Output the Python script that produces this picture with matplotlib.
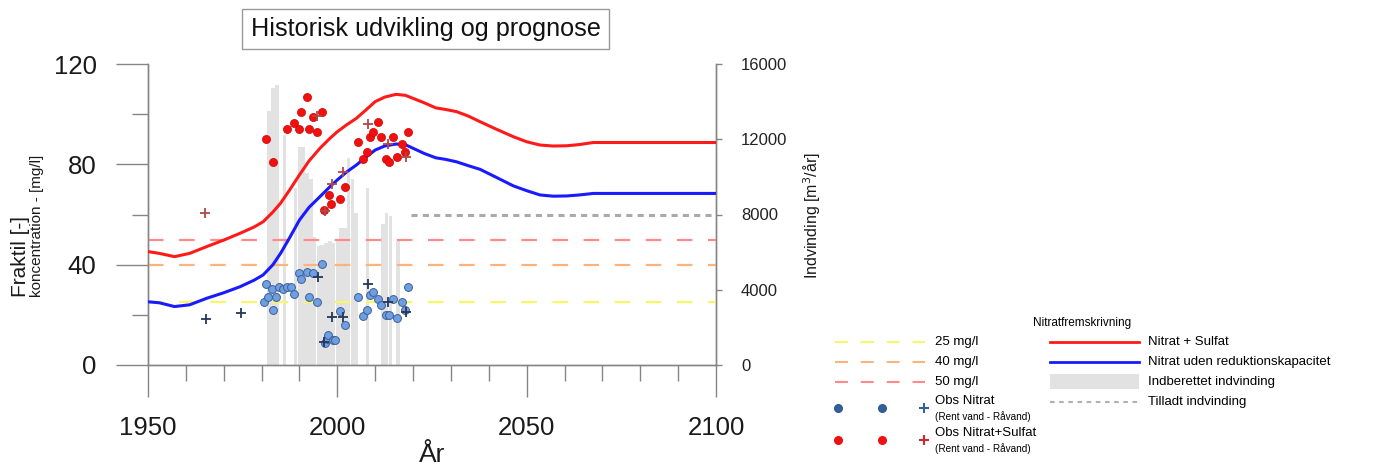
import numpy as np
import matplotlib
matplotlib.use('Agg')
import matplotlib.pyplot as plt
from matplotlib.ticker import MultipleLocator, FixedLocator

plt.rcParams['font.family'] = ['Liberation Sans', 'DejaVu Sans']

# --- data --------------------------------------------------------------
curve_years = [1950, 1953, 1957, 1961, 1965.5, 1970, 1974.3, 1978, 1980.4, 1983, 1985,
               1987.5, 1990, 1992.5, 1995.4, 1998, 2000, 2002.5, 2005, 2007.5, 2010,
               2012.5, 2015.5, 2018, 2020, 2023, 2026, 2028.5, 2031.5, 2034.5, 2037.7,
               2042, 2046.5, 2050, 2053.5, 2057, 2060.6, 2064, 2067.6, 2075, 2085, 2100]
nitrat_sulfat = [45.2, 44.5, 43.2, 44.5, 47.2, 49.8, 52.5, 55.0, 57.1, 61.0, 64.5,
                 70.0, 75.8, 81.3, 86.4, 90.3, 93.0, 95.8, 98.3, 101.6, 105.0,
                 106.8, 107.9, 107.5, 106.3, 104.5, 102.5, 101.9, 101.0, 99.3, 97.0,
                 94.0, 91.0, 89.0, 87.7, 87.3, 87.4, 87.9, 88.7, 88.7, 88.7, 88.7]
nitrat_uden = [25.2, 24.8, 23.3, 24.0, 26.6, 28.8, 31.2, 33.8, 35.9, 40.0, 44.5,
               51.0, 57.8, 62.8, 67.1, 71.0, 73.8, 77.0, 79.7, 82.8, 85.7,
               87.3, 88.1, 87.8, 86.4, 84.3, 82.6, 82.0, 81.0, 79.5, 78.0,
               74.8, 71.4, 69.5, 67.8, 67.3, 67.4, 67.8, 68.4, 68.4, 68.4, 68.4]

limits = [25, 40, 50]
limit_labels = ['25 mg/l', '40 mg/l', '50 mg/l']
limit_colors = ['#f7f76a', '#ffb27c', '#ff8a8a']

# reported abstraction m3/year
bar_years = list(range(1982, 2017))
bar_values = [13500, 14700, 14900, 0, 12200, 0, 0, 9400, 11600, 11600, 10200, 9900,
              6800, 6300, 6400, 6500, 6600, 6500, 6600, 7300, 7300, 11000, 9900, 8100,
              0, 0, 9400, 0, 0, 0, 7500, 8100, 7900, 0, 6600]
allowed_start = 2019.5
allowed_value = 8000

obs_n_years = [1980.7, 1981.2, 1981.8, 1982.7, 1983.1, 1983.8, 1984.7, 1985.6, 1986.6,
               1987.8, 1988.6, 1990.0, 1990.5, 1991.9, 1992.6, 1993.7, 1994.5, 1996.0,
               1996.7, 1997.2, 1997.6, 1998.9, 1999.4, 2000.7, 2002.0, 2005.5, 2006.9,
               2007.9, 2008.6, 2009.5, 2010.7, 2011.6, 2012.8, 2013.7, 2014.6, 2015.8,
               2017.1, 2017.8, 2018.6]
obs_n_values = [25.2, 32.3, 27.0, 30.2, 21.9, 27.0, 31.2, 30.2, 31.2,
                31.2, 28.2, 36.5, 34.3, 37.2, 27.2, 36.5, 25.0, 40.3,
                8.6, 10.5, 12.0, 10.0, 10.1, 21.5, 15.9, 27.0, 19.7,
                21.9, 27.9, 29.2, 26.2, 23.9, 19.9, 19.9, 26.2, 18.9,
                25.0, 21.9, 31.2]
obs_ns_years = [1981.2, 1983.1, 1986.6, 1988.6, 1990.0, 1990.5, 1991.9, 1992.6, 1993.7,
                1994.5, 1996.0, 1996.6, 1997.7, 1998.3, 2000.7, 2001.9, 2005.5, 2006.9,
                2007.9, 2008.6, 2009.5, 2010.7, 2011.6, 2012.8, 2013.7, 2014.6, 2015.8,
                2017.1, 2017.8, 2018.6]
obs_ns_values = [90.1, 81.1, 94.1, 96.4, 93.9, 101.0, 107.0, 93.9, 99.0,
                 93.0, 101.0, 61.8, 67.8, 64.1, 66.1, 71.1, 89.0, 82.0,
                 85.0, 91.0, 93.0, 97.0, 91.0, 82.1, 81.1, 91.0, 83.0,
                 88.0, 85.0, 93.0]
raw_n_years = [1965.2, 1974.5, 1994.8, 1996.6, 1998.5, 2001.6, 2008.2, 2013.5, 2018.1]
raw_n_values = [18.2, 20.8, 35.0, 9.3, 19.0, 19.2, 32.3, 25.2, 21.2]
raw_ns_years = [1965.1, 1994.7, 1996.7, 1998.5, 2001.6, 2008.2, 2013.5, 2018.1]
raw_ns_values = [60.7, 99.3, 61.5, 72.0, 77.0, 96.2, 88.0, 83.1]

W, H = 1381, 470
fig = plt.figure(figsize=(W / 100, H / 100), dpi=100)
ax = fig.add_axes([148 / W, 1 - 365 / H, (716 - 148) / W, (365 - 64) / H])
ax2 = ax.twinx()
ax.set_zorder(2)
ax2.set_zorder(1)
ax.patch.set_visible(False)

spine_c = '#858585'

# bars and allowed abstraction (right axis)
ax2.bar(bar_years, bar_values, width=0.95, color='#e2e2e2', edgecolor='none')
ax2.plot([allowed_start, 2100], [allowed_value, allowed_value], color='#aaaaaa',
         lw=2.2, dashes=(2, 1.7))
ax2.set_ylim(0, 16000)
ax2.yaxis.set_major_locator(MultipleLocator(4000))
ax2.tick_params(axis='y', direction='out', length=4, width=1, color=spine_c,
                labelsize=12, pad=14, labelcolor='#222222')

# limit lines
for v, c in zip(limits, limit_colors):
    ax.plot([1950, 2100], [v, v], color=c, lw=1.6, dashes=(7, 7), zorder=2)

ax.plot(curve_years, nitrat_sulfat, color='#ff1a1a', lw=2.2, zorder=3)
ax.plot(curve_years, nitrat_uden, color='#1a1aff', lw=2.2, zorder=3)

ax.scatter(obs_n_years, obs_n_values, s=32, facecolor='#6e9fe2', edgecolor='#3d5f95',
           linewidth=0.7, zorder=4)
ax.scatter(obs_ns_years, obs_ns_values, s=34, facecolor='#f01010', edgecolor='#d00000',
           linewidth=0.5, zorder=4)
ax.scatter(raw_n_years, raw_n_values, s=45, marker='+', color='#22395e', linewidth=1.3,
           zorder=5)
ax.scatter(raw_ns_years, raw_ns_values, s=45, marker='+', color='#b04848', linewidth=1.3,
           zorder=5)

ax.set_xlim(1950, 2100)
ax.set_ylim(0, 120)
ax.xaxis.set_major_locator(MultipleLocator(50))
ax.xaxis.set_minor_locator(MultipleLocator(10))
ax.yaxis.set_major_locator(MultipleLocator(40))
ax.yaxis.set_minor_locator(FixedLocator([20, 60, 100]))
ax.tick_params(which='major', direction='out', length=23, width=1, color=spine_c,
               labelsize=18.5, pad=14, labelcolor='#1a1a1a')
ax.tick_params(which='minor', direction='out', length=11.5, width=1, color=spine_c)

for a in (ax, ax2):
    a.spines['top'].set_visible(False)
    for s in ('left', 'right', 'bottom'):
        a.spines[s].set_color(spine_c)
        a.spines[s].set_linewidth(1)

# labels
fig.text(20 / W, 1 - 297 / H, 'Fraktil [-]', rotation=90, ha='center', va='bottom',
         fontsize=15, color='#1a1a1a')
fig.text(37 / W, 1 - 297 / H, 'koncentration - [mg/l]', rotation=90, ha='center',
         va='bottom', fontsize=11, color='#1a1a1a')
fig.text(812 / W, 1 - 216 / H, 'Indvinding [m$^3$/år]', rotation=90, ha='center',
         va='center', fontsize=11.5, color='#1a1a1a')
fig.text(432 / W, 1 - 455 / H, 'År', ha='center', va='center', fontsize=19,
         color='#1a1a1a')
fig.text(425.5 / W, 1 - 29 / H, 'Historisk udvikling og prognose', ha='center',
         va='center', fontsize=18.2, color='#111111',
         bbox=dict(boxstyle='square,pad=0.33', facecolor='white', edgecolor='#999999',
                   linewidth=1))

# legend drawn in pixel coordinates of the figure
lax = fig.add_axes([0, 0, 1, 1], zorder=0)
lax.set_xlim(0, W)
lax.set_ylim(H, 0)
lax.axis('off')
fs = 9.5
lax.text(1082, 323, 'Nitratfremskrivning', ha='center', va='center', fontsize=8.5)
rows = [342, 362, 382]
for y, lab, c in zip(rows, limit_labels, limit_colors):
    lax.plot([835, 925], [y, y], color=c, lw=1.5, dashes=(6.2, 6.2))
    lax.text(935, y, lab, va='center', fontsize=fs)
for y, lab, mc, pc, ec in [(408, 'Obs Nitrat', '#33609a', '#33609a', '#2f5a92'),
                           (440, 'Obs Nitrat+Sulfat', '#ee1111', '#cc2a2a', '#ee1111')]:
    lax.plot([838, 882], [y, y], ls='none', marker='o', ms=5.5, color=mc, mec=ec)
    lax.plot([924], [y], ls='none', marker='+', ms=7, mew=1.5, color=pc)
    lax.text(935, y - 7, lab, va='center', fontsize=fs)
    lax.text(935, y + 8.5, '(Rent vand - Råvand)', va='center', fontsize=7.2)
lax.plot([1050, 1139], [342, 342], color='#ff1a1a', lw=2)
lax.text(1148, 342, 'Nitrat + Sulfat', va='center', fontsize=fs)
lax.plot([1050, 1139], [362, 362], color='#1a1aff', lw=2)
lax.text(1148, 362, 'Nitrat uden reduktionskapacitet', va='center', fontsize=fs)
lax.fill_between([1050, 1139], 374, 389, color='#e2e2e2', lw=0)
lax.text(1148, 382, 'Indberettet indvinding', va='center', fontsize=fs)
lax.plot([1050, 1139], [402, 402], color='#b0b0b0', lw=1.5, dashes=(2.2, 2.2))
lax.text(1148, 402, 'Tilladt indvinding', va='center', fontsize=fs)

fig.savefig('out.png', dpi=100)
